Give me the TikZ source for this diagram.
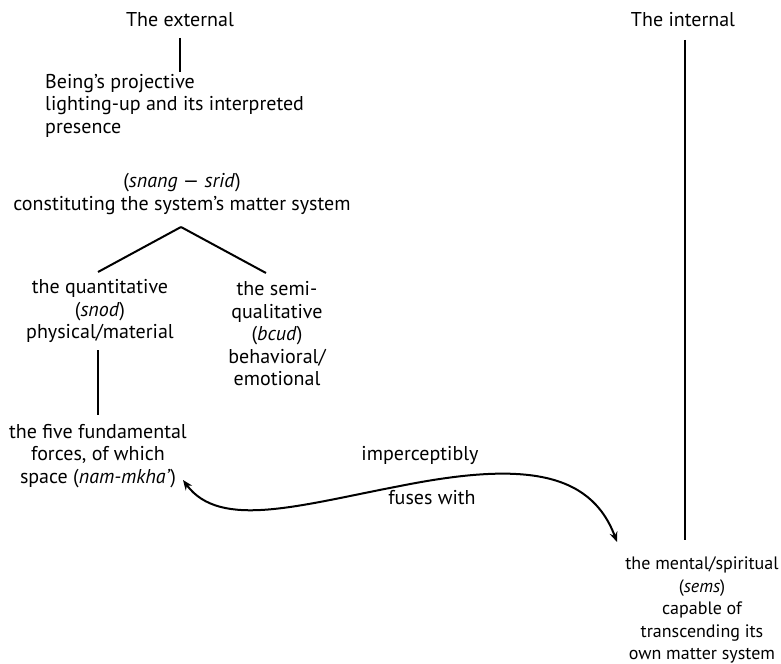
\documentclass[tikz,border=0pt]{standalone}
\usepackage{fontspec}
\setmainfont{PT Sans}
\usetikzlibrary{arrows.meta}
\begin{document}
\begin{tikzpicture}[x=1bp,y=-1bp,
  txt/.style={inner sep=0pt, font=\fontsize{20bp}{22.5bp}\selectfont, align=center},
  ln/.style={line width=2bp},
  arr/.style={line width=2bp, {Stealth[length=10bp,width=8bp]}-{Stealth[length=10bp,width=8bp]}}]
\useasboundingbox (0,0) rectangle (781,664);
\node[txt] (ext) at (180,20) {The external};
\node[txt, anchor=north west, align=left] (being) at (45,74) {Being's projective\\lighting-up and its interpreted\\presence};
\node[txt] (snang) at (182,194) {(\textit{snang} --- \textit{srid})\\constituting the system's matter system};
\coordinate (apex) at (181,227);
\node[txt] (quant) at (100,311) {the quantitative\\(\textit{snod})\\physical/material};
\node[txt] (semi) at (277,334) {the semi-\\qualitative\\(\textit{bcud})\\behavioral/\\emotional};
\node[txt] (five) at (98,456) {the five fundamental\\forces, of which\\space (\textit{nam-mkha'})};
\node[txt] (imp) at (420,455) {imperceptibly};
\node[txt] (fuses) at (432,498) {fuses with};
\node[txt] (int) at (683,20) {The internal};
\node[txt, font=\fontsize{18bp}{22.5bp}\selectfont] (mental) at (702,610) {the mental/spiritual\\(\textit{sems})\\capable of\\transcending its\\own matter system};
\coordinate (q1) at (98,272);
\coordinate (s1) at (266,273);
\coordinate (e1) at (180,38);
\coordinate (e2) at (180,72);
\coordinate (f1) at (98,350);
\coordinate (f2) at (98,415);
\coordinate (i1) at (685,40);
\coordinate (i2) at (685,540);
\coordinate (a1) at (183,480);
\coordinate (am) at (400,486);
\coordinate (a2) at (617,542);
\draw[ln] (e1) -- (e2);
\draw[ln] (apex) -- (q1);
\draw[ln] (apex) -- (s1);
\draw[ln] (f1) -- (f2);
\draw[ln] (i1) -- (i2);
\draw[arr] (a1) .. controls (220,530) and (300,505) .. (am) .. controls (520,462) and (590,470) .. (a2);
\end{tikzpicture}
\end{document}
